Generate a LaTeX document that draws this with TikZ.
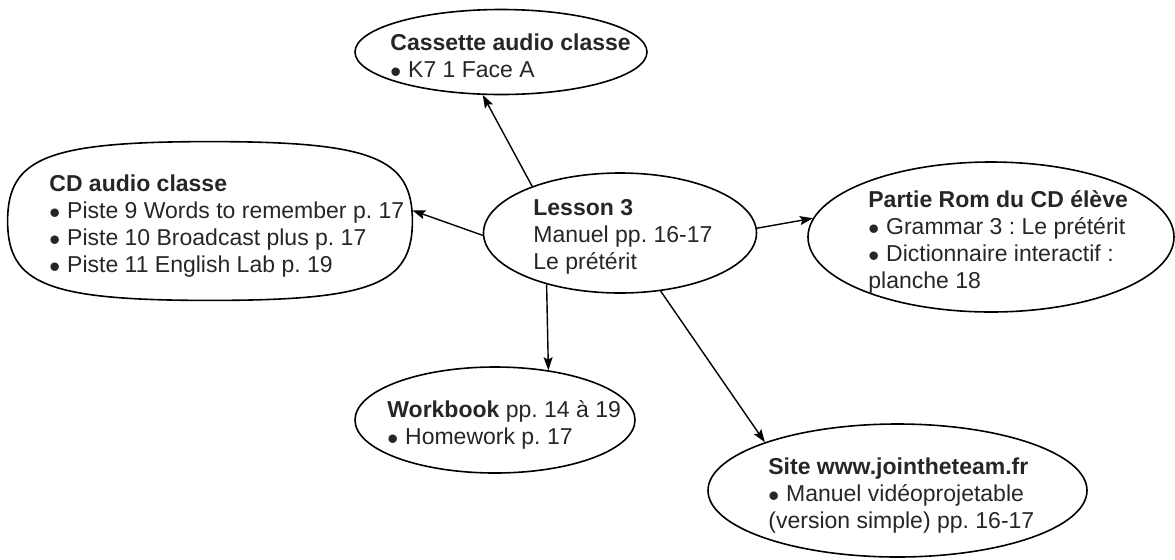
\documentclass[tikz,border=0pt]{standalone}
\usepackage{fontspec}
\setmainfont{Liberation Sans}
\usetikzlibrary{shapes.geometric,arrows.meta,calc}
\frenchspacing
\newcommand\bul{\raisebox{-0.45ex}{\scalebox{1.35}{•}}\hspace{0.3em}}
\newcommand\tstrut{\rule{0pt}{11pt}}
\begin{document}
\begin{tikzpicture}[x=0.5pt,y=-0.5pt,
  bub/.style={draw, ellipse, line width=0.8pt, inner sep=0pt},
  boxshape/.style={draw=none, rectangle, inner sep=0pt},
  txt/.style={anchor=north west, align=left, inner sep=0pt, text=black!85,
    font=\fontsize{11.5}{13.5}\selectfont\frenchspacing},
  arr/.style={-{Stealth[length=6.5pt,width=4.5pt,inset=1.2pt]}, line width=0.7pt}]
\useasboundingbox (0,0) rectangle (1175,559);

% shapes
\node[bub, minimum width=146pt, minimum height=42.5pt] (cas) at (501,52) {};
\node[boxshape, minimum width=202pt, minimum height=79pt] (cd) at (210,221) {};
\node[bub, minimum width=136.5pt, minimum height=60pt] (lesson) at (620,233) {};
\node[bub, minimum width=183pt, minimum height=75pt] (partie) at (991,237) {};
\node[bub, minimum width=140pt, minimum height=53pt] (wb) at (495,420) {};
\node[bub, minimum width=189.5pt, minimum height=66.5pt] (site) at (897.5,490.5) {};

% squircle for CD audio classe
\draw[line width=0.8pt]
  (cd.west) .. controls ($(cd.west)!0.8!(cd.north west)$) and ($(cd.north)!0.8!(cd.north west)$) .. (cd.north)
  .. controls ($(cd.north)!0.8!(cd.north east)$) and ($(cd.east)!0.8!(cd.north east)$) .. (cd.east)
  .. controls ($(cd.east)!0.8!(cd.south east)$) and ($(cd.south)!0.8!(cd.south east)$) .. (cd.south)
  .. controls ($(cd.south)!0.8!(cd.south west)$) and ($(cd.west)!0.8!(cd.south west)$) .. (cd.west) -- cycle;

% texts
\node[txt] (cast) at (390,28) {\tstrut\textbf{Cassette audio classe}\\\bul K7 1 Face A};
\node[txt] (cdt) at (49,169) {\tstrut\textbf{CD audio classe}\\\bul Piste 9 Words to remember p. 17\\\bul Piste 10 Broadcast plus p. 17\\\bul Piste 11 English Lab p. 19};
\node[txt] (lest) at (533,193) {\tstrut\textbf{Lesson 3}\\Manuel pp. 16-17\\Le prétérit};
\node[txt] (partt) at (868,185) {\tstrut\textbf{Partie Rom du CD élève}\\\bul Grammar 3 : Le prétérit\\\bul Dictionnaire interactif :\\planche 18};
\node[txt] (wbt) at (387,395) {\tstrut\textbf{Workbook} pp. 14 à 19\\\bul Homework p. 17};
\node[txt] (sitet) at (768,452) {\tstrut\textbf{Site www.jointheteam.fr}\\\bul Manuel vidéoprojetable\\(version simple) pp. 16-17};

% connectors
\draw[arr] (lesson.152) -- (cas.247);
\draw[arr] (lesson.181) -- (cd.3);
\draw[arr] (lesson.2) -- (partie.174);
\draw[arr] (lesson.215) -- (wb.43);
\draw[arr] (lesson.305) -- (site.160);
\end{tikzpicture}
\end{document}
